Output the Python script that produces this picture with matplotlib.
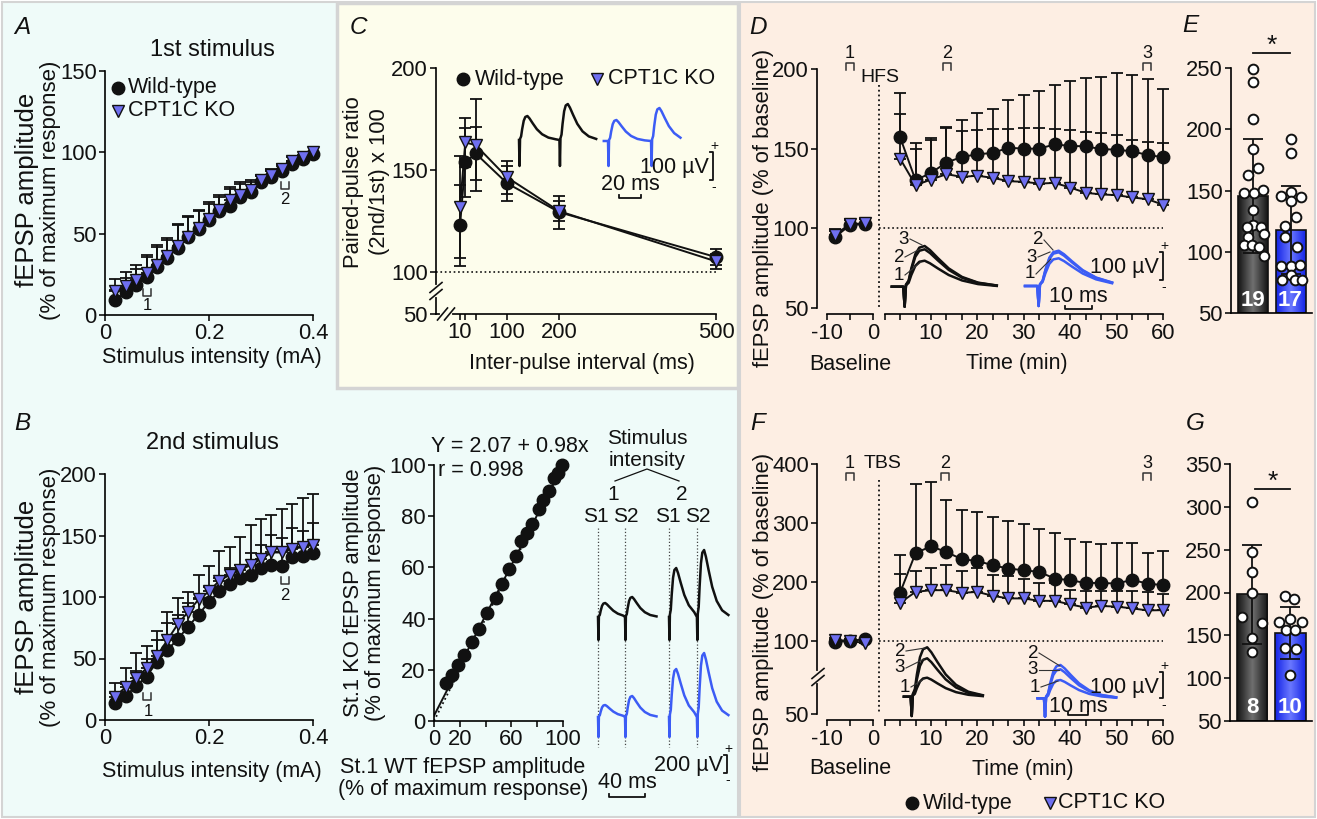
import numpy as np
import matplotlib.pyplot as plt
from matplotlib.patches import Rectangle
from matplotlib.colors import LinearSegmentedColormap

W, H = 1317, 819
plt.rcParams['font.family'] = ['Liberation Sans', 'DejaVu Sans']
plt.rcParams['axes.linewidth'] = 1.2
plt.rcParams['xtick.major.width'] = 1.2
plt.rcParams['ytick.major.width'] = 1.2
plt.rcParams['xtick.major.size'] = 4.5
plt.rcParams['ytick.major.size'] = 4.5
plt.rcParams['xtick.labelsize'] = 15.8
plt.rcParams['ytick.labelsize'] = 15.8
plt.rcParams['text.color'] = '#111111'

# ---------------- data ----------------
intensity = [0.02, 0.04, 0.06, 0.08, 0.10, 0.12, 0.14, 0.16, 0.18, 0.20,
             0.22, 0.24, 0.26, 0.28, 0.30, 0.32, 0.34, 0.36, 0.38, 0.40]
st1_wt = [9.2, 13.9, 18.4, 23.5, 29.6, 35.1, 41.4, 48.0, 52.7, 58.2,
          63.7, 67.3, 72.4, 75.9, 81.6, 84.7, 88.8, 92.9, 95.9, 99.0]
st1_ko = [14.7, 17.8, 21.8, 25.9, 31.0, 36.1, 42.2, 48.0, 53.5, 59.2,
          64.3, 70.4, 73.5, 76.9, 82.7, 86.3, 89.8, 94.9, 96.9, 100.0]
st1_wt_err = [6, 9, 10, 12, 12, 11, 14, 12, 11, 10, 9, 10, 8, 6, 4, 4, 3, 2, 1.5, 0.5]
st1_ko_err = [7.7, 8.7, 9.2, 11.1, 12, 11, 13.5, 12.8, 11.2, 10.2, 9.6, 8.2, 8.1, 5.8, 3.3, 3.5, 3.1, 2, 1.5, 0.5]

st2_wt = [14.1, 19.5, 27.7, 35.3, 47.5, 57.0, 65.7, 76.0, 85.5, 96.3,
          104.5, 110.4, 115.3, 117.5, 123.5, 126.2, 125.6, 132.2, 133.0, 135.7]
st2_ko = [19.0, 27.0, 34.5, 42.0, 52.0, 65.0, 78.0, 88.0, 98.0, 104.5,
          113.4, 118.0, 121.6, 126.2, 130.8, 136.2, 136.2, 139.0, 140.6, 142.5]
st2_wt_err = [8, 10, 12, 14.7, 17.5, 21.7, 19.8, 19.5, 13.5, 12.2,
              10.8, 13.1, 10.7, 18.2, 19, 24.4, 22.4, 23.8, 21, 24.3]
st2_ko_err = [11.4, 15, 19.8, 18.5, 20.7, 22.7, 21, 16, 19.8, 21.1,
              23.6, 23, 26.8, 32.5, 32.6, 30.8, 35.6, 36.8, 39.9, 41.2]

fit_intercept, fit_slope = 2.07, 0.98

ppr_interval = [10, 20, 40, 100, 200, 500]
ppr_wt = [122.8, 153.7, 158.1, 143.5, 129.3, 107.3]
ppr_ko = [131.8, 163.5, 162.2, 146.4, 129.8, 105.2]
ppr_wt_err = [20, 17, 13, 8.5, 8, 4]
ppr_ko_err = [25, 12, 22.5, 8, 5, 3.5]

base_t = [-8.33, -5.0, -1.67]
ltp_t = [3.33, 6.67, 10, 13.33, 16.67, 20, 23.33, 26.67, 30, 33.33,
         36.67, 40, 43.33, 46.67, 50, 53.33, 56.67, 60]

hfs_base_wt = [94.4, 102.0, 102.7]
hfs_base_ko = [95.8, 102.7, 103.1]
hfs_base_err = [4, 3, 3]
hfs_wt = [157.3, 130.2, 134.8, 141.3, 144.8, 146.5, 147.3, 150.6, 150.0, 150.0,
          152.7, 151.7, 151.5, 149.7, 149.4, 148.3, 146.1, 144.6]
hfs_ko = [143.8, 127.1, 130.6, 134.0, 132.3, 133.0, 131.7, 129.6, 129.2, 128.1,
          128.5, 125.6, 122.3, 121.3, 120.8, 119.4, 118.3, 114.8]
hfs_wt_err = [27.5, 23.3, 22.1, 22.2, 23.3, 25.8, 27.3, 30.2, 33.8, 36.5,
              37.3, 40.6, 42.9, 45.1, 47.9, 48.2, 47.7, 43.1]
hfs_ko_err = [28.1, 22.9, 24.6, 29.0, 28.7, 28.5, 30.8, 32.9, 33.8, 34.9,
              34.0, 36.4, 38.2, 38.7, 37.5, 35.8, 35.9, 38.5]

tbs_base_wt = [97.3, 100.0, 102.4]
tbs_base_ko = [101.0, 100.0, 95.5]
tbs_wt = [181.4, 249.0, 260.5, 250.8, 238.5, 235.6, 228.3, 222.7, 219.8, 217.0,
          205.7, 202.9, 198.2, 198.2, 197.2, 203.4, 197.2, 194.4]
tbs_ko = [164.4, 183.0, 185.9, 185.9, 181.4, 183.0, 176.3, 171.9, 171.9, 167.8,
          167.8, 161.7, 156.3, 159.0, 158.0, 155.0, 151.5, 152.0]
tbs_wt_err = [65, 117.7, 109, 89.2, 84.5, 83, 81.7, 80.3, 78, 73.5,
              78, 70.7, 69.6, 66.8, 69.8, 62.6, 52.6, 58.1]
tbs_ko_err = [49.8, 35, 37.8, 42.4, 36.6, 40.7, 35.1, 37.8, 33.8, 29.5,
              29.5, 24.3, 27.7, 25, 26, 29, 30.5, 28]

groups = ['WT', 'KO']
e_wt_pts = [249.4, 238.5, 208.6, 184.0, 162.5, 168.5, 148.0, 148.0, 150.2, 133.8,
            121.8, 120.2, 120.2, 112.5, 114.4, 105.4, 105.4, 103.7, 96.4]
e_ko_pts = [192.5, 180.8, 145.6, 149.0, 144.5, 141.2, 128.5, 121.2, 112.5, 104.0,
            88.4, 88.4, 89.3, 77.0, 81.1, 77.0, 77.0]
e_mean = [145.6, 117.8]
e_sd = [46.4, 36.3]
e_n = ['19', '17']

g_wt_pts = [306.4, 247.8, 223.7, 199.1, 171.0, 164.8, 147.2, 130.1]
g_ko_pts = [196.3, 192.0, 168.9, 165.0, 165.0, 156.1, 156.1, 135.0, 133.8, 103.2]
g_mean = [198.1, 152.4]
g_sd = [58.0, 30.5]
g_n = ['8', '10']

# horizontal spread of the dots inside each bar (layout only)
e_wt_dx = [0, 0, 0, 0, -0.13, 0.14, -0.24, 0.02, 0.26, 0, 0, -0.17, 0.21, -0.13, 0.3, -0.24, -0.04, 0.16, 0.3]
e_ko_dx = [0, 0, -0.26, 0, 0.27, 0, 0.14, -0.15, -0.15, 0.17, -0.25, 0, 0.25, -0.23, 0, 0.12, 0.3]
g_wt_dx = [0, 0, 0, 0, -0.27, 0.26, 0, 0]
g_ko_dx = [-0.13, 0.1, 0, -0.29, 0.3, -0.12, 0.12, -0.13, 0.15, 0]

# normalised fEPSP waveform (ms after stimulus)
wave_t = [0, 0.5, 1.0, 2.0, 3.0, 4.5, 6.0, 8.0, 10.0, 13.0, 17.0, 22.0, 28.0, 35.0, 42.0]
wave_v = [0, -1, 0.05, 0.15, 0.45, 0.8, 0.96, 1.0, 0.9, 0.7, 0.45, 0.24, 0.1, 0.03, 0]

# ---------------- styling ----------------
BLUE_M = '#6f6ff0'
BLUE_T = '#3c5cf5'
BG_AB = '#effbf9'
BG_C = '#fdfdec'
BG_DG = '#fdeee3'
K = '#111111'

fig = plt.figure(figsize=(W / 100, H / 100), dpi=100)


def px_axes(x0, y0, x1, y1):
    return fig.add_axes([x0 / W, 1 - y1 / H, (x1 - x0) / W, (y1 - y0) / H])


bg = fig.add_axes([0, 0, 1, 1], zorder=-10)
bg.set_xlim(0, W)
bg.set_ylim(H, 0)
bg.axis('off')
bg.add_patch(Rectangle((2, 2), 736, 815, fc=BG_AB, ec='#d4d4d4', lw=1.5))
bg.add_patch(Rectangle((337, 3), 401, 385, fc=BG_C, ec='#d4d4d4', lw=2.5))
bg.add_patch(Rectangle((740, 2), 575, 815, fc=BG_DG, ec='#d4d4d4', lw=1.5))

ov = fig.add_axes([0, 0, 1, 1], zorder=20)
ov.set_xlim(0, W)
ov.set_ylim(H, 0)
ov.axis('off')
ov.patch.set_alpha(0)


def prism(ax, left_out=0, bottom_out=0):
    ax.patch.set_alpha(0)
    for s in ['top', 'right']:
        ax.spines[s].set_visible(False)
    ax.spines['left'].set_position(('outward', left_out))
    ax.spines['bottom'].set_position(('outward', bottom_out))
    ax.tick_params(direction='out', colors=K, pad=1.5)


def txt(x, y, s, size=15.5, **kw):
    kw.setdefault('ha', 'center')
    kw.setdefault('va', 'center')
    ov.text(x, y, s, fontsize=size, color=K, **kw)


def vtxt(x, y, s, size=15.8):
    ov.text(x, y, s, fontsize=size, color=K, rotation=90, ha='center', va='center')


def bracket(x, y, up=True):
    d = 3.5 if up else -3.5
    ov.plot([x - 4, x - 4, x + 4, x + 4], [y - d, y + d, y + d, y - d], color='#333', lw=1.1)


def trace(x0, y0, pxms, amps, art, color, interval=0, pre=0, post=42, lw=1.8):
    xs, ys = [], []
    if pre:
        xs += [x0 - pre * pxms]
        ys += [y0]
    for i, a in enumerate(amps):
        t0 = i * interval
        last = i == len(amps) - 1
        for t, v in zip(wave_t, wave_v):
            if not last and t >= interval:
                break
            if last and t > post:
                break
            xs.append(x0 + (t0 + t) * pxms)
            ys.append(y0 + art if v < 0 else y0 - a * v)
    ov.plot(xs, ys, color=color, lw=lw, solid_joinstyle='round')


def scalebar_v(x, y_top, y_bot, label, lx):
    ov.plot([x - 3, x, x, x - 3], [y_top, y_top, y_bot, y_bot], color=K, lw=1.3)
    txt(x + 1, y_top - 6, '+', size=10)
    txt(x + 1, y_bot + 7, '-', size=10)
    txt(lx, (y_top + y_bot) / 2 + 2, label, ha='right')


def scalebar_h(x0, x1, y, label, ly):
    ov.plot([x0, x0, x1, x1], [y - 3, y, y, y - 3], color=K, lw=1.3)
    txt((x0 + x1) / 2, ly, label)


def axis_break(x, y, bgc, vertical=True):
    if vertical:
        ov.plot([x, x], [y - 4, y + 4], color=bgc, lw=3, zorder=5)
        for dy in (-3.5, 3.5):
            ov.plot([x - 6, x + 6], [y + dy + 5, y + dy - 5], color=K, lw=1.2, zorder=6)
    else:
        ov.plot([x - 4, x + 4], [y, y], color=bgc, lw=3, zorder=5)
        for dx in (-3.5, 3.5):
            ov.plot([x + dx - 5, x + dx + 5], [y + 6, y - 6], color=K, lw=1.2, zorder=6)


def curve(ax, x, wt, ko, wt_err, ko_err, both=False, ms=9):
    z = [0] * len(wt)
    ax.errorbar(x, wt, yerr=(wt_err if both else [z, wt_err]), fmt='none',
                ecolor=K, elinewidth=1.3, capsize=4, capthick=1.3, zorder=2, clip_on=False)
    ax.errorbar(x, ko, yerr=(ko_err if both else [z, ko_err]), fmt='none',
                ecolor=K, elinewidth=1.3, capsize=4, capthick=1.3, zorder=2, clip_on=False)
    ax.plot(x, wt, '-o', color=K, mfc=K, mec=K, ms=ms, lw=1.4, zorder=3, clip_on=False)
    ax.plot(x, ko, '-v', color=K, mfc=BLUE_M, mec=K, mew=1.0, ms=ms, lw=1.4, zorder=4, clip_on=False)


# ---------------- A ----------------
axA = px_axes(105, 71, 313, 315)
prism(axA)
curve(axA, intensity, st1_wt, st1_ko, st1_wt_err, st1_ko_err)
axA.set_xlim(0, 0.4)
axA.set_ylim(0, 150)
axA.set_xticks([0, 0.2, 0.4], ['0', '0.2', '0.4'])
axA.set_yticks([0, 50, 100, 150])
txt(22, 28, 'A', size=17.5, style='italic')
txt(212, 50, '1st stimulus', size=17)
txt(212, 357, 'Stimulus intensity (mA)')
vtxt(27, 190, 'fEPSP amplitude', size=18.5)
vtxt(51, 190, '(% of maximum response)', size=16)
ov.plot([118], [88], 'o', color=K, ms=9)
ov.plot([118], [111], 'v', mfc=BLUE_M, mec=K, ms=9)
txt(128, 88, 'Wild-type', ha='left')
txt(128, 111, 'CPT1C KO', ha='left')
bracket(147, 292)
txt(147, 305, '1', size=12)
bracket(285, 185)
txt(285, 199, '2', size=12)

# ---------------- B ----------------
axB = px_axes(105, 474, 313, 720)
prism(axB)
curve(axB, intensity, st2_wt, st2_ko, st2_wt_err, st2_ko_err)
axB.set_xlim(0, 0.4)
axB.set_ylim(0, 200)
axB.set_xticks([0, 0.2, 0.4], ['0', '0.2', '0.4'])
axB.set_yticks([0, 50, 100, 150, 200])
txt(22, 423, 'B', size=17.5, style='italic')
txt(212, 443, '2nd stimulus', size=17)
txt(212, 771, 'Stimulus intensity (mA)')
vtxt(27, 597, 'fEPSP amplitude', size=18.5)
vtxt(51, 597, '(% of maximum response)', size=16)
bracket(147, 696)
txt(148, 711, '1', size=12)
bracket(285, 580)
txt(285, 595, '2', size=12)

# B middle: stimulus-1 WT vs KO
axS = px_axes(434, 465, 563, 721)
prism(axS)
axS.plot([0, 100], [0, 100], ':', color=K, lw=1.3, zorder=1)
axS.plot([0, 100], [fit_intercept, fit_intercept + fit_slope * 100], '-', color=K, lw=1.4, zorder=2)
axS.plot(st1_wt, st1_ko, 'o', color=K, ms=9, zorder=3, clip_on=False)
axS.set_xlim(0, 100)
axS.set_ylim(0, 100)
axS.set_xticks([0, 20, 40, 60, 80, 100], ['0', '20', '', '60', '', '100'])
axS.set_yticks([0, 20, 40, 60, 80, 100])
txt(510, 446, 'Y = 2.07 + 0.98x')
txt(481, 470, 'r = 0.998')
vtxt(353, 593, 'St.1 KO fEPSP amplitude')
vtxt(376, 593, '(% of maximum response)')
txt(463, 767, 'St.1 WT fEPSP amplitude')
txt(463, 790, '(% of maximum response)')

# B traces
txt(647, 439, 'Stimulus', size=15)
txt(647, 460, 'intensity', size=15)
ov.plot([615, 647, 679], [481, 469, 481], color=K, lw=0.9)
txt(613, 494, '1', size=15)
txt(682, 494, '2', size=15)
for xs, lab in zip([596, 626, 668, 698], ['S1', 'S2', 'S1', 'S2']):
    txt(xs, 517, lab, size=15)
for xs in [598, 625, 669, 697]:
    ov.plot([xs, xs], [528, 747], ':', color='#444', lw=0.9)
trace(598, 617, 0.9, [14, 20], 23, K, interval=30, post=38)
trace(669, 617, 0.9, [49, 67], 23, K, interval=31, post=37)
trace(598, 717, 0.9, [12, 21], 20, BLUE_T, interval=30, post=38)
trace(669, 717, 0.9, [48, 64], 20, BLUE_T, interval=31, post=37)
scalebar_h(609, 645, 797, '40 ms', 783)
scalebar_v(727, 755, 773, '200 µV', 723)

# ---------------- C ----------------
c_low = 100 - 42 / 2.04
axC = px_axes(436, 68, 716, 314)
prism(axC)
curve(axC, ppr_interval, ppr_wt, ppr_ko, ppr_wt_err, ppr_ko_err, both=True)
axC.plot([-36, 500], [100, 100], ':', color=K, lw=1.2, zorder=1)
axC.set_xlim(-36, 500)
axC.set_ylim(c_low, 200)
axC.set_xticks(ppr_interval, ['10', '', '', '100', '200', '500'])
axC.set_yticks([c_low, 100, 150, 200], ['50', '100', '150', '200'])
axis_break(436, 291, BG_C, vertical=True)
axis_break(446, 314, BG_C, vertical=False)
txt(358, 28, 'C', size=17.5, style='italic')
vtxt(354, 182, 'Paired-pulse ratio')
vtxt(380, 182, '(2nd/1st) x 100')
txt(582, 364, 'Inter-pulse interval (ms)')
ov.plot([463], [79], 'o', color=K, ms=9)
txt(475, 79, 'Wild-type', ha='left')
ov.plot([597], [79], 'v', mfc=BLUE_M, mec=K, ms=9)
txt(608, 79, 'CPT1C KO', ha='left')
trace(519, 140, 1.05, [24, 36], 26, K, interval=38.5, post=36)
trace(608, 141, 1.05, [21, 33], 25, BLUE_T, interval=41, pre=4, post=32)
scalebar_h(619, 641, 198, '20 ms', 185)
scalebar_v(713, 152, 180, '100 µV', 709)


# ---------------- D and F ----------------
def ltp_panel(y_top, y_bot, ylim, yticks, ylabels, base_wt, base_ko, base_err,
              wt, ko, wt_err, ko_err, ycen):
    axb = px_axes(827, y_top, 873, y_bot)
    prism(axb, left_out=7, bottom_out=4.5)
    curve(axb, base_t, base_wt, base_ko, base_err, base_err)
    axb.set_xlim(-10, 0)
    axb.set_ylim(*ylim)
    axb.set_xticks([-10, -5, 0], ['-10', '', '0'])
    axb.set_yticks(yticks, ylabels)
    axm = px_axes(884.6, y_top, 1163, y_bot)
    prism(axm, bottom_out=4.5)
    axm.spines['left'].set_visible(False)
    axm.tick_params(axis='y', left=False, labelleft=False)
    curve(axm, ltp_t, wt, ko, wt_err, ko_err)
    axm.set_xlim(0, 60)
    axm.set_ylim(*ylim)
    ticks = [0] + ltp_t
    axm.set_xticks(ticks, [str(t) if t in (10, 20, 30, 40, 50, 60) else '' for t in ticks])
    axm.plot([-1.2, 60], [100, 100], ':', color=K, lw=1.2, zorder=1, clip_on=False)
    vtxt(764, ycen, 'fEPSP amplitude (% of baseline)')
    return axb, axm


axDb, axDm = ltp_panel(69, 308, (50, 200), [50, 100, 150, 200], ['50', '100', '150', '200'],
                       hfs_base_wt, hfs_base_ko, hfs_base_err,
                       hfs_wt, hfs_ko, hfs_wt_err, hfs_ko_err, 208)
ov.plot([879, 879], [85, 308], ':', color=K, lw=1.3)
txt(758, 28, 'D', size=17.5, style='italic')
txt(880, 77, 'HFS', size=14)
for bx, lab in [(850, '1'), (946.7, '2'), (1147, '3')]:
    txt(bx, 53, lab, size=13)
    bracket(bx, 66, up=False)
txt(850, 364, 'Baseline')
txt(1017, 364, 'Time (min)')
for amp in [40.7, 37.4, 26]:
    trace(903.3, 286.7, 2.67, [amp], 20, K, pre=4.3, post=35)
for amp in [35.3, 33.7, 27.7]:
    trace(1037.3, 286, 2.67, [amp], 20, BLUE_T, pre=4.6, post=34)
for lx, ly, px, py, lab in [(904, 239, 922, 245, '3'), (899, 257, 920, 249, '2'), (899, 275, 921, 262, '1'),
                             (1038, 240, 1053, 250, '2'), (1032, 257, 1050, 252, '3'), (1030, 274, 1051, 259, '1')]:
    txt(lx, ly, lab, size=13.5)
    ov.plot([lx + 6, px], [ly, py], color='#333', lw=0.8)
scalebar_h(1065, 1092, 309, '10 ms', 296)
scalebar_v(1163, 252, 280, '100 µV', 1159)

t_low = 100 - 73.3 / 0.588
axFb, axFm = ltp_panel(464.3, 714, (t_low, 400), [t_low, 100, 200, 300, 400],
                       ['50', '100', '200', '300', '400'],
                       tbs_base_wt, tbs_base_ko, hfs_base_err,
                       tbs_wt, tbs_ko, tbs_wt_err, tbs_ko_err, 612)
axis_break(818, 677, BG_DG, vertical=True)
ov.plot([879, 879], [480, 714], ':', color=K, lw=1.3)
txt(758, 423, 'F', size=17.5, style='italic')
txt(883, 464, 'TBS', size=14)
for bx, lab in [(850, '1'), (945, '2'), (1147, '3')]:
    txt(bx, 464, lab, size=13)
    bracket(bx, 476, up=False)
txt(850, 769, 'Baseline')
txt(1023, 769, 'Time (min)')
for amp in [49.4, 38.4, 19]:
    trace(910.7, 696.7, 2.06, [amp], 19.3, K, pre=3.3, post=37)
for amp in [33.3, 29, 18.3]:
    trace(1044, 698.3, 2.06, [amp], 18.4, BLUE_T, pre=3.1, post=37.7)
for lx, ly, px, py, lab in [(900, 651, 925, 648, '2'), (900, 668, 924, 659, '3'), (905, 687, 924, 679, '1'),
                             (1033, 653, 1060, 666, '2'), (1033, 670, 1059, 670, '3'), (1035, 687, 1058, 681, '1')]:
    txt(lx, ly, lab, size=13.5)
    ov.plot([lx + 6, px], [ly, py], color='#333', lw=0.8)
scalebar_h(1068, 1088, 715, '10 ms', 706)
scalebar_v(1163, 672, 698, '100 µV', 1159)
ov.plot([912], [803], 'o', color=K, ms=9)
txt(923, 803, 'Wild-type', ha='left')
ov.plot([1050], [803], 'v', mfc=BLUE_M, mec=K, ms=9)
txt(1058, 803, 'CPT1C KO', ha='left')


# ---------------- E and G ----------------
def grad_bar(ax, x, w, bottom, top, c_edge, c_mid):
    cmap = LinearSegmentedColormap.from_list('g', [c_edge, c_mid, c_edge])
    ax.imshow(np.linspace(0, 1, 64).reshape(1, -1), cmap=cmap, aspect='auto',
              extent=(x - w / 2, x + w / 2, bottom, top), zorder=1, interpolation='bilinear')
    ax.add_patch(Rectangle((x - w / 2, bottom), w, top - bottom, fill=False, ec=K, lw=1.2, zorder=2))


def bar_panel(x0, y_top, x1, y_bot, ylim, yticks, means, sds, wt_pts, ko_pts, wt_dx, ko_dx, ns, unit):
    ax = px_axes(x0, y_top, x1, y_bot)
    prism(ax)
    ax.tick_params(axis='x', bottom=False, labelbottom=False)
    w = 0.8
    grad_bar(ax, 0, w, ylim[0], means[0], '#151515', '#707070')
    grad_bar(ax, 1, w, ylim[0], means[1], '#1424e6', '#6a78ff')
    ax.errorbar([0, 1], means, yerr=sds, fmt='none', ecolor=K, elinewidth=1.3,
                capsize=7, capthick=1.3, zorder=3)
    ax.plot(np.array(wt_dx), wt_pts, 'o', mfc='white', mec=K, mew=1.4, ms=7, zorder=4, clip_on=False)
    ax.plot(1 + np.array(ko_dx), ko_pts, 'o', mfc='white', mec=K, mew=1.4, ms=7, zorder=4, clip_on=False)
    for i, n in enumerate(ns):
        ax.text(i, ylim[0] + 0.05 * (ylim[1] - ylim[0]), n, color='white', fontsize=16,
                fontweight='bold', ha='center', va='center', zorder=5)
    ax.set_xlim(-(22 / unit), 1 + (21.5 / unit))
    ax.set_ylim(*ylim)
    ax.set_yticks(yticks)
    return ax


axE = bar_panel(1231, 68.3, 1312, 313, (50, 250), [50, 100, 150, 200, 250],
                e_mean, e_sd, e_wt_pts, e_ko_pts, e_wt_dx, e_ko_dx, e_n, 37.5)
txt(1190, 25, 'E', size=17.5, style='italic')
ov.plot([1253, 1290], [53, 53], color=K, lw=1.3)
txt(1272, 46, '*', size=19)

axG = bar_panel(1230, 464.3, 1312, 720.7, (50, 350), [50, 100, 150, 200, 250, 300, 350],
                g_mean, g_sd, g_wt_pts, g_ko_pts, g_wt_dx, g_ko_dx, g_n, 38)
txt(1195, 423, 'G', size=17.5, style='italic')
ov.plot([1255, 1290], [489, 489], color=K, lw=1.3)
txt(1273, 482, '*', size=19)

fig.savefig('out.png', dpi=100)
